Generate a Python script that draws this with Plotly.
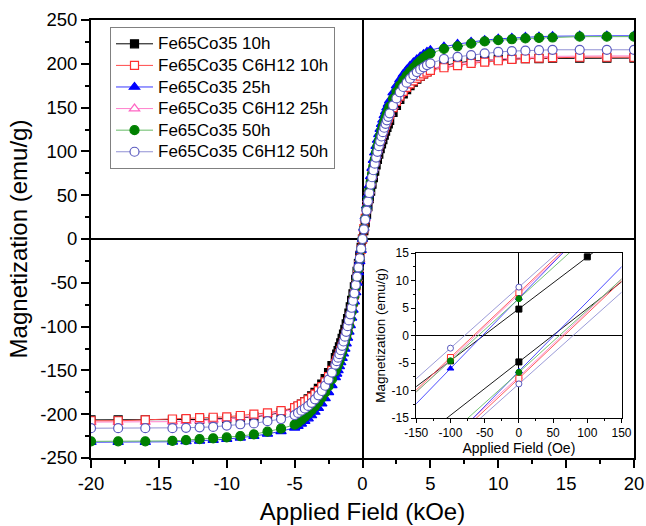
import plotly.graph_objects as go

# ---------------- main loop data (field in kOe, magnetization in emu/g) ----------------
H_KOE = [-20, -18, -16, -14, -13, -12, -11, -10, -9, -8, -7, -6,
         -5, -4.75, -4.5, -4.25, -4, -3.75, -3.5, -3.25, -3, -2.75, -2.5, -2.25,
         -2.0, -1.9, -1.8, -1.7, -1.6, -1.5, -1.4, -1.3, -1.2, -1.1,
         -1.0, -0.9, -0.8, -0.7, -0.6, -0.5, -0.4, -0.3, -0.2, -0.1,
         0,
         0.1, 0.2, 0.3, 0.4, 0.5, 0.6, 0.7, 0.8, 0.9, 1.0,
         1.1, 1.2, 1.3, 1.4, 1.5, 1.6, 1.7, 1.8, 1.9, 2.0,
         2.25, 2.5, 2.75, 3, 3.25, 3.5, 3.75, 4, 4.25, 4.5, 4.75, 5,
         6, 7, 8, 9, 10, 11, 12, 13, 14, 16, 18, 20]

M_FECO_10H = [-206.5, -206.5, -206.5, -206.5, -206, -206, -205.5, -205, -204, -203, -201, -198,
              -193, -191, -188.5, -185.5, -182.5, -179, -175, -170.5, -165.5, -159.5, -152.5, -144.5,
              -135.5, -131.5, -127.5, -123, -118.5, -113.5, -108.5, -103, -97, -91,
              -84.5, -77.5, -70, -62.5, -54.5, -46, -37, -28, -18.8, -9.4,
              0,
              9.4, 18.8, 28, 37, 46, 54.5, 62.5, 70, 77.5, 84.5,
              91, 97, 103, 108.5, 113.5, 118.5, 123, 127.5, 131.5, 135.5,
              144.5, 152.5, 159.5, 165.5, 170.5, 175, 179, 182.5, 185.5, 188.5, 191, 193,
              198, 201, 203, 204, 205, 205.5, 206, 206, 206.5, 206.5, 206.5, 206.5]

M_FECO_C6H12_10H = [-207.5, -207.5, -206.5, -205.5, -205, -204, -203.5, -203, -201.5, -200, -198.5, -196,
                    -192.5, -190.5, -188.5, -186, -183.5, -180.5, -177, -173, -168.5, -163, -157, -150,
                    -142, -138.5, -135, -131, -127, -122.5, -118, -113, -107.5, -101.5,
                    -95, -88, -80.5, -72.5, -64, -55, -45, -34.5, -23.5, -11.8,
                    0,
                    11.8, 23.5, 34.5, 45, 55, 64, 72.5, 80.5, 88, 95,
                    101.5, 107.5, 113, 118, 122.5, 127, 131, 135, 138.5, 142,
                    150, 157, 163, 168.5, 173, 177, 180.5, 183.5, 186, 188.5, 190.5, 192.5,
                    195.5, 198, 200.5, 202, 203.5, 205, 206, 206.5, 207, 207.5, 207.5, 207.5]

M_FECO_25H = [-232, -232, -232, -231.5, -231, -230.5, -229.5, -228.5, -227, -225, -222.5, -219.5,
              -215.5, -213.5, -211, -208, -205, -201.5, -197.5, -193, -188, -182, -175, -167,
              -158, -154, -150, -145.5, -141, -136, -131, -125.5, -119.5, -113,
              -106, -98.5, -90, -81, -71.5, -61, -50, -38, -25.5, -12.8,
              0,
              12.8, 25.5, 38, 50, 61, 71.5, 81, 90, 98.5, 106,
              113, 119.5, 125.5, 131, 136, 141, 145.5, 150, 154, 158,
              167, 175, 182, 188, 193, 197.5, 201.5, 205, 208, 211, 213.5, 215.5,
              219.5, 222.5, 225, 227, 228.5, 229.5, 230.5, 231, 231.5, 232, 232, 232]

M_FECO_C6H12_25H = [-209, -209, -209, -208.5, -208, -207.5, -206.5, -205.5, -204, -202, -200, -197.5,
                    -194.5, -192.5, -190.5, -188, -185.5, -182.5, -179, -175, -170.5, -165, -158.5, -151.5,
                    -143.5, -140, -136, -132, -128, -123.5, -118.5, -113.5, -108, -102,
                    -95.5, -88.5, -81, -73, -64.5, -55, -45, -34.5, -23.3, -11.7,
                    0,
                    11.7, 23.3, 34.5, 45, 55, 64.5, 73, 81, 88.5, 95.5,
                    102, 108, 113.5, 118.5, 123.5, 128, 132, 136, 140, 143.5,
                    151.5, 158.5, 165, 170.5, 175, 179, 182.5, 185.5, 188, 190.5, 192.5, 194.5,
                    197.5, 200, 202, 204, 205.5, 206.5, 207.5, 208, 208.5, 209, 209, 209]

M_FECO_50H = [-231, -231, -231, -230.5, -229.5, -228.5, -227.5, -226.5, -225, -223, -220, -216.5,
              -212, -209.5, -206.5, -203, -199.5, -195.5, -191, -186.5, -181, -175, -168, -160,
              -151, -147, -143, -139, -134, -129, -124, -118, -112, -106,
              -99, -91, -83, -74, -65, -55, -45, -34, -23, -11.5,
              0,
              11.5, 23, 34, 45, 55, 65, 74, 83, 91, 99,
              106, 112, 118, 124, 129, 134, 139, 143, 147, 151,
              160, 168, 175, 181, 186.5, 191, 195.5, 199.5, 203, 206.5, 209.5, 212,
              217, 220, 223, 225.5, 227, 228, 229, 229.5, 230, 231, 231, 231]

M_FECO_C6H12_50H = [-216, -216, -216, -216, -215.5, -215, -214.5, -213, -211.5, -210.5, -208, -205.5,
                    -201, -198.5, -196, -193.5, -190.5, -187, -183, -178.5, -173.5, -167.5, -160.5, -152.5,
                    -143.5, -139.5, -135.5, -131.5, -127, -122, -117, -111.5, -106, -99.5,
                    -93, -86, -78.5, -70.5, -62, -52.5, -43, -32.5, -22, -11,
                    0,
                    11, 22, 32.5, 43, 52.5, 62, 70.5, 78.5, 86, 93,
                    99.5, 106, 111.5, 117, 122, 127, 131.5, 135.5, 139.5, 143.5,
                    152.5, 160.5, 167.5, 173.5, 178.5, 183, 187, 190.5, 193.5, 196, 198.5, 200.5,
                    205.5, 208, 210, 212, 213.5, 214.5, 215, 215.5, 216, 216, 216, 216]

# ---------------- low-field detail (field in Oe) ----------------
H_OE_DESC = [-200, -100, 0, 100, 200]
H_OE_ASC = [-200, 0, 200]

LOW_DESC_10H = [-14.0, -4.6, 4.8, 14.3, 23.7]
LOW_ASC_10H = [-24.2, -4.8, 14.6]
LOW_DESC_C6H12_10H = [-15.8, -4.0, 7.8, 19.6, 31.0]
LOW_ASC_C6H12_10H = [-31.0, -7.8, 15.8]
LOW_DESC_25H = [-18.8, -6.0, 6.8, 19.6, 32.0]
LOW_ASC_25H = [-32.0, -6.5, 18.8]
LOW_DESC_C6H12_25H = [-16.2, -4.3, 7.5, 19.2, 30.0]
LOW_ASC_C6H12_25H = [-30.0, -7.5, 16.2]
LOW_DESC_50H = [-15.9, -4.6, 6.7, 18.0, 29.0]
LOW_ASC_50H = [-29.0, -6.7, 15.9]
LOW_DESC_C6H12_50H = [-13.4, -2.3, 8.8, 19.9, 31.0]
LOW_ASC_C6H12_50H = [-31.0, -8.8, 13.4]

SERIES_NAMES = ["Fe65Co35 10h", "Fe65Co35 C6H12 10h", "Fe65Co35 25h",
                "Fe65Co35 C6H12 25h", "Fe65Co35 50h", "Fe65Co35 C6H12 50h"]

main_values = [M_FECO_10H, M_FECO_C6H12_10H, M_FECO_25H,
               M_FECO_C6H12_25H, M_FECO_50H, M_FECO_C6H12_50H]
low_desc = [LOW_DESC_10H, LOW_DESC_C6H12_10H, LOW_DESC_25H,
            LOW_DESC_C6H12_25H, LOW_DESC_50H, LOW_DESC_C6H12_50H]
low_asc = [LOW_ASC_10H, LOW_ASC_C6H12_10H, LOW_ASC_25H,
           LOW_ASC_C6H12_25H, LOW_ASC_50H, LOW_ASC_C6H12_50H]

for vals in main_values:
    assert len(vals) == len(H_KOE)

# symbol / colour per series: (symbol, marker edge, marker fill, line colour)
styles = [
    ("square", "#000000", "#000000", "#000000"),
    ("square", "#ff3030", "#ffffff", "#ff4a4a"),
    ("triangle-up", "#0000ff", "#0000ff", "#3838ff"),
    ("triangle-up", "#ff66c4", "#ffffff", "#ff80cc"),
    ("circle", "#008000", "#008000", "#66bb66"),
    ("circle", "#5a5abf", "#ffffff", "#9090d4"),
]
main_sizes = [8, 8, 9, 9, 9, 9]
# drawing order (pink under red), legend keeps the series order
draw_order = [0, 3, 1, 2, 4, 5]

FONT = "Liberation Sans, Arial, sans-serif"
LEGEND_TEXT = '<span style="font-size:17px">{}</span>'

fig = go.Figure()

for i in draw_order:
    sym, edge, fill, lcol = styles[i]
    fig.add_trace(go.Scatter(
        x=H_KOE, y=main_values[i], name=LEGEND_TEXT.format(SERIES_NAMES[i]),
        mode="lines+markers", legendrank=i + 1,
        line=dict(color=lcol, width=1),
        marker=dict(symbol=sym, size=main_sizes[i], color=fill,
                    line=dict(color=edge, width=1.2)),
        xaxis="x", yaxis="y",
    ))

for i in draw_order:
    sym, edge, fill, lcol = styles[i]
    for hx, my in ((H_OE_DESC, low_desc[i]), (H_OE_ASC, low_asc[i])):
        fig.add_trace(go.Scatter(
            x=hx, y=my, mode="lines+markers", showlegend=False,
            line=dict(color=lcol, width=0.9),
            marker=dict(symbol=sym, size=6, color=fill,
                        line=dict(color=edge, width=1)),
            xaxis="x2", yaxis="y2",
        ))

main_x_ticks = [-20, -15, -10, -5, 0, 5, 10, 15, 20]
main_y_ticks = [-250, -200, -150, -100, -50, 0, 50, 100, 150, 200, 250]
inset_x_ticks = [-150, -100, -50, 0, 50, 100, 150]
inset_y_ticks = [-15, -10, -5, 0, 5, 10, 15]

def labels(vals):
    return [str(v) for v in vals]

fig.update_layout(
    width=646, height=526,
    margin=dict(l=91, r=12, t=20, b=68, autoexpand=False),
    paper_bgcolor="white", plot_bgcolor="white",
    font=dict(family=FONT, color="black"),
    showlegend=True,
    legend=dict(x=0.035, y=0.984, xanchor="left", yanchor="top",
                bgcolor="white", bordercolor="#808080", borderwidth=1,
                font=dict(size=14.3, family=FONT), tracegroupgap=0,
                itemwidth=37),
    xaxis=dict(
        domain=[0, 1], range=[-20, 20], anchor="y", automargin=False,
        tickmode="array", tickvals=main_x_ticks, ticktext=labels(main_x_ticks),
        ticklabeloverflow="allow",
        ticks="outside", ticklen=8, tickwidth=1.5, tickcolor="black",
        minor=dict(tickmode="linear", tick0=0, dtick=2.5, ticks="outside",
                   ticklen=4, tickwidth=1.5, tickcolor="black"),
        showline=True, linewidth=2, linecolor="black", mirror=True,
        showgrid=False, zeroline=True, zerolinecolor="black", zerolinewidth=1.6,
        tickfont=dict(size=18.5),
        title=dict(text="Applied Field (kOe)", font=dict(size=24), standoff=10),
    ),
    yaxis=dict(
        domain=[0, 1], range=[-250, 250], anchor="x", automargin=False,
        tickmode="array", tickvals=main_y_ticks, ticktext=labels(main_y_ticks),
        ticklabeloverflow="allow",
        ticks="outside", ticklen=8, tickwidth=1.5, tickcolor="black",
        minor=dict(tickmode="linear", tick0=0, dtick=25, ticks="outside",
                   ticklen=4, tickwidth=1.5, tickcolor="black"),
        showline=True, linewidth=2, linecolor="black", mirror=True,
        showgrid=False, zeroline=True, zerolinecolor="black", zerolinewidth=1.6,
        tickfont=dict(size=18.5),
        title=dict(text="Magnetization (emu/g)", font=dict(size=24), standoff=6),
    ),
    xaxis2=dict(
        domain=[0.599, 0.977], range=[-150, 150], anchor="y2", automargin=False,
        tickmode="array", tickvals=inset_x_ticks, ticktext=labels(inset_x_ticks),
        ticks="outside", ticklen=4, tickwidth=1, tickcolor="black",
        minor=dict(tickmode="linear", tick0=0, dtick=25, ticks="outside",
                   ticklen=2, tickwidth=1, tickcolor="black"),
        showline=True, linewidth=1, linecolor="black", mirror=True,
        showgrid=False, zeroline=True, zerolinecolor="black", zerolinewidth=1,
        tickfont=dict(size=12),
        title=dict(text="Applied Field (Oe)", font=dict(size=14), standoff=3),
    ),
    yaxis2=dict(
        domain=[0.0913, 0.468], range=[-15, 15], anchor="x2", automargin=False,
        tickmode="array", tickvals=inset_y_ticks, ticktext=labels(inset_y_ticks),
        ticks="outside", ticklen=4, tickwidth=1, tickcolor="black",
        minor=dict(tickmode="linear", tick0=0, dtick=2.5, ticks="outside",
                   ticklen=2, tickwidth=1, tickcolor="black"),
        showline=True, linewidth=1, linecolor="black", mirror=True,
        showgrid=False, zeroline=True, zerolinecolor="black", zerolinewidth=1,
        tickfont=dict(size=12),
        title=dict(text="Magnetization (emu/g)", font=dict(size=13.5), standoff=2),
    ),
)

fig.write_html("out.html")
